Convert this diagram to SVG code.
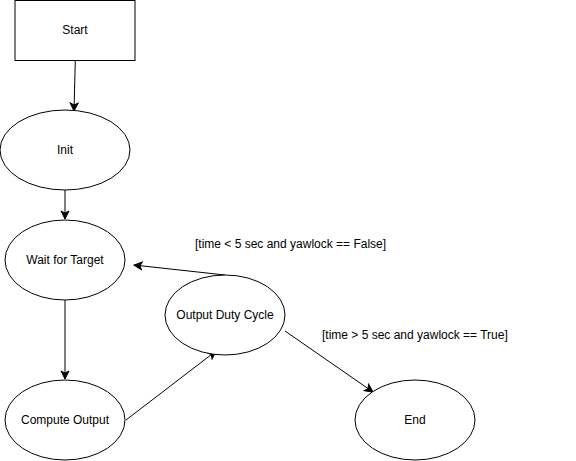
<svg xmlns="http://www.w3.org/2000/svg" width="576" height="461" viewBox="0 0 576 461">
<style>
.s{fill:#fff;stroke:#000;stroke-width:1}
.t{font-family:"Liberation Sans",Arial,sans-serif;font-size:12px;fill:#000;text-anchor:middle;dominant-baseline:central}
.l{font-family:"Liberation Sans",Arial,sans-serif;font-size:12px;fill:#000;dominant-baseline:central}
.c{fill:none;stroke:#000;stroke-width:1;marker-end:url(#a)}
</style>
<defs>
<marker id="a" viewBox="0 0 10 10" refX="9" refY="5" markerWidth="10" markerHeight="10" markerUnits="userSpaceOnUse" orient="auto">
<path d="M1,1 L9,5 L1,9 L3,5 Z" fill="#000" stroke="#000" stroke-width="1"/>
</marker>
</defs>
<rect width="576" height="461" fill="#fff"/>
<g id="connectors">
<path class="c" d="M75.3,60.5 L74,111"/>
<path class="c" d="M65,190 L65,219"/>
<path class="c" d="M65,300 L65,379"/>
<path class="c" d="M126,420 L216,351"/>
<path class="c" d="M225,275 L134,265"/>
<path class="c" d="M285,331 L373,392"/>
</g>
<g id="start"><rect class="s" x="15" y="0.5" width="120" height="60"/><text class="t" x="75" y="30">Start</text></g>
<g id="init"><ellipse class="s" cx="65" cy="150" rx="65" ry="40"/><text class="t" x="65" y="150">Init</text></g>
<g id="wait"><ellipse class="s" cx="65" cy="260" rx="60" ry="40"/><text class="t" x="65" y="260">Wait for Target</text></g>
<g id="duty"><ellipse class="s" cx="225" cy="315" rx="60" ry="40"/><text class="t" x="225" y="315">Output Duty Cycle</text></g>
<g id="compute"><ellipse class="s" cx="65" cy="420" rx="60" ry="40"/><text class="t" x="65" y="420">Compute Output</text></g>
<g id="end"><ellipse class="s" cx="415" cy="420" rx="60" ry="40"/><text class="t" x="415" y="420">End</text></g>
<g id="labels">
<text class="l" x="195" y="244">[time &lt; 5 sec and yawlock == False]</text>
<text class="l" x="322" y="335">[time &gt; 5 sec and yawlock == True]</text>
</g>
</svg>
